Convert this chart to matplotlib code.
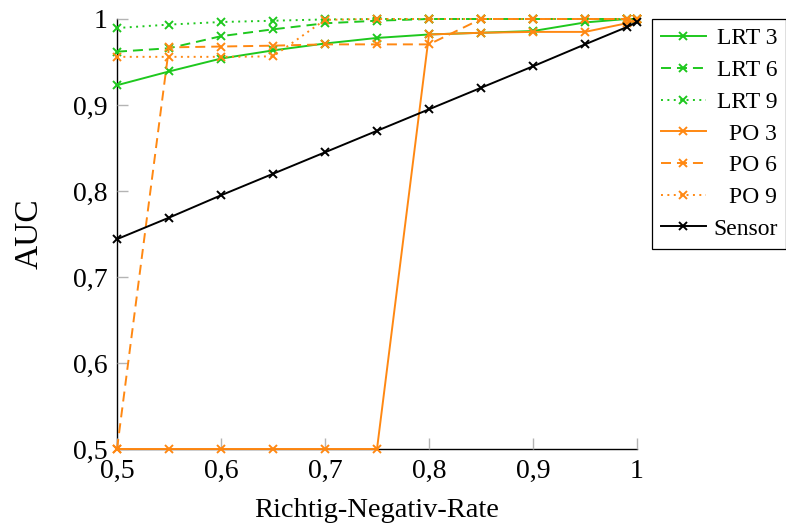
import matplotlib
matplotlib.use("Agg")
import matplotlib.pyplot as plt
from matplotlib.ticker import FuncFormatter

# x positions (true negative rate)
tnr = [0.5, 0.55, 0.6, 0.65, 0.7, 0.75, 0.8, 0.85, 0.9, 0.95, 0.99, 1.0]

lrt3 = [0.923, 0.939, 0.954, 0.9635, 0.9715, 0.978, 0.982, 0.984, 0.986, 0.996, 1.0, 1.0]
lrt6 = [0.962, 0.966, 0.980, 0.988, 0.995, 0.998, 1.0, 1.0, 1.0, 1.0, 1.0, 1.0]
lrt9 = [0.9895, 0.9935, 0.9965, 0.998, 0.9995, 1.0, 1.0, 1.0, 1.0, 1.0, 1.0, 1.0]
po3 = [0.5, 0.5, 0.5, 0.5, 0.5, 0.5, 0.982, 0.984, 0.985, 0.985, 0.995, 1.0]
po6 = [0.5, 0.967, 0.968, 0.969, 0.9705, 0.9705, 0.9705, 1.0, 1.0, 1.0, 1.0, 1.0]
po9 = [0.956, 0.956, 0.956, 0.9565, 0.999, 1.0, 1.0, 1.0, 1.0, 1.0, 1.0, 1.0]
sensor = [0.744, 0.769, 0.795, 0.82, 0.845, 0.87, 0.895, 0.92, 0.945, 0.9705, 0.9905, 0.9965]

series = [
    ("LRT 3", lrt3, "#1ec81e", "solid"),
    ("LRT 6", lrt6, "#1ec81e", "dashed"),
    ("LRT 9", lrt9, "#1ec81e", "dotted"),
    ("PO 3", po3, "#ff8812", "solid"),
    ("PO 6", po6, "#ff8812", "dashed"),
    ("PO 9", po9, "#ff8812", "dotted"),
    ("Sensor", sensor, "black", "solid"),
]
dash_styles = {"solid": None, "dashed": (7.2, 4.3), "dotted": (1.4, 3.2)}

plt.rcParams["font.family"] = ["Liberation Serif", "DejaVu Serif"]
plt.rcParams["lines.scale_dashes"] = False

fig = plt.figure(figsize=(7.86, 5.28), dpi=100)
ax = fig.add_axes([117 / 786, 79 / 528, 520 / 786, 430 / 528])

for label, vals, color, style in series:
    line, = ax.plot(tnr, vals, color=color, lw=1.4, marker="x", ms=6, mew=1.4,
                    label=label, clip_on=False)
    if dash_styles[style] is not None:
        line.set_dashes(dash_styles[style])

ax.set_xlim(0.5, 1.0)
ax.set_ylim(0.5, 1.0)
ax.set_xticks([0.5, 0.6, 0.7, 0.8, 0.9, 1.0])
ax.set_yticks([0.5, 0.6, 0.7, 0.8, 0.9, 1.0])
fmt = FuncFormatter(lambda v, p: "1" if abs(v - 1) < 1e-9 else f"{v:.1f}".replace(".", ","))
ax.xaxis.set_major_formatter(fmt)
ax.yaxis.set_major_formatter(fmt)
ax.tick_params(direction="in", length=8, width=1, color="#b4b4b4", labelsize=20)
ax.tick_params(axis="y", pad=7)
ax.tick_params(axis="x", pad=7)
ax.spines["top"].set_visible(False)
ax.spines["right"].set_visible(False)
for s in ("left", "bottom"):
    ax.spines[s].set_linewidth(1.0)
    ax.spines[s].set_zorder(0.5)

ax.set_xlabel("Richtig-Negativ-Rate", fontsize=20.5, labelpad=10)
ax.set_ylabel("AUC", fontsize=24, labelpad=20)

leg = ax.legend(loc="upper left", bbox_to_anchor=(652 / 786, 509 / 528),
                bbox_transform=fig.transFigure, fontsize=17, frameon=True,
                fancybox=False, edgecolor="black", framealpha=1,
                handlelength=1.9, handletextpad=0.3, labelspacing=0.43,
                borderpad=0.38, borderaxespad=0)
leg.get_frame().set_linewidth(0.9)

# right-align legend texts as in the original
fig.canvas.draw()
renderer = fig.canvas.get_renderer()
widths = [t.get_window_extent(renderer).width for t in leg.get_texts()]
wmax = max(widths)
for t, w in zip(leg.get_texts(), widths):
    t.set_position((wmax - w, 0))

fig.savefig("out.png", dpi=100)
